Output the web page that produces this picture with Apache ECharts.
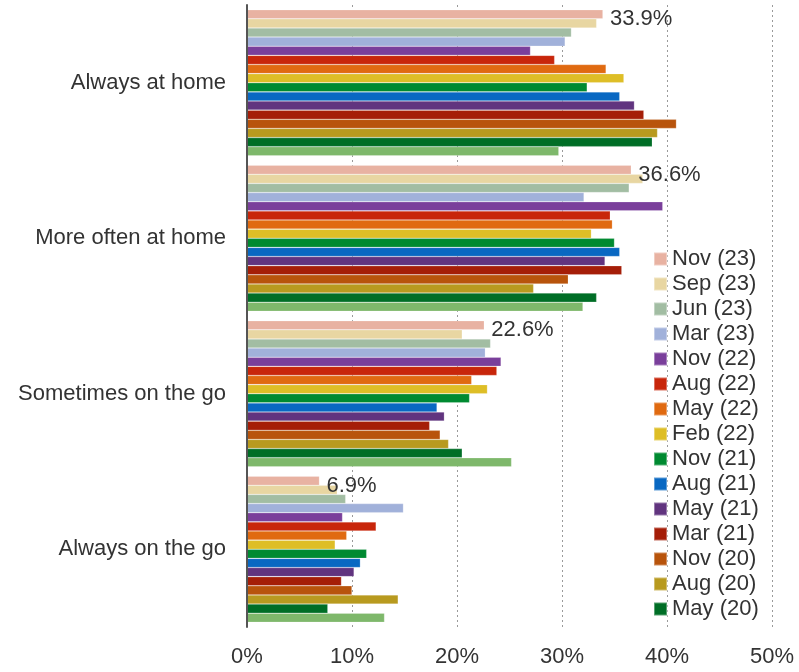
<!DOCTYPE html>
<html>
<head>
<meta charset="utf-8">
<script src="https://cdn.jsdelivr.net/npm/echarts@6/dist/echarts.min.js"></script>
<style>
html,body{margin:0;padding:0;background:#fff;}
#chart{width:799px;height:672px;}
</style>
</head>
<body>
<div id="chart"></div>
<script>
var categories = ['Always at home', 'More often at home', 'Sometimes on the go', 'Always on the go'];
var seriesNames = ['Nov (23)', 'Sep (23)', 'Jun (23)', 'Mar (23)', 'Nov (22)', 'Aug (22)', 'May (22)', 'Feb (22)', 'Nov (21)', 'Aug (21)', 'May (21)', 'Mar (21)', 'Nov (20)', 'Aug (20)', 'May (20)', 'Earlier wave'];
var seriesColors = ['#E8B2A2', '#E8D6A2', '#A2BDA3', '#A1B1DA', '#7A3F9B', '#C8260B', '#E06A11', '#DEBE26', '#008A31', '#0968C2', '#61347F', '#A51E08', '#B8540C', '#B89A1F', '#006E26', '#7EB86B'];
var nov23 = [33.9, 36.6, 22.6, 6.9];
var sep23 = [33.3, 37.7, 20.5, 8.6];
var jun23 = [30.9, 36.4, 23.2, 9.4];
var mar23 = [30.3, 32.1, 22.7, 14.9];
var nov22 = [27.0, 39.6, 24.2, 9.1];
var aug22 = [29.3, 34.6, 23.8, 12.3];
var may22 = [34.2, 34.8, 21.4, 9.5];
var feb22 = [35.9, 32.8, 22.9, 8.4];
var nov21 = [32.4, 35.0, 21.2, 11.4];
var aug21 = [35.5, 35.5, 18.1, 10.8];
var may21 = [36.9, 34.1, 18.8, 10.2];
var mar21 = [37.8, 35.7, 17.4, 9.0];
var nov20 = [40.9, 30.6, 18.4, 10.0];
var aug20 = [39.1, 27.3, 19.2, 14.4];
var may20 = [38.6, 33.3, 20.5, 7.7];
var earlier = [29.7, 32.0, 25.2, 13.1];
var xTicks = [0, 10, 20, 30, 40, 50];

var allValues = [nov23, sep23, jun23, mar23, nov22, aug22, may22, feb22, nov21, aug21, may21, mar21, nov20, aug20, may20, earlier];
var font = '"Liberation Sans", Arial, sans-serif';

var series = allValues.map(function (vals, i) {
  var s = {
    name: seriesNames[i],
    type: 'bar',
    data: vals,
    barGap: '0%',
    barCategoryGap: '6%',
    itemStyle: { color: seriesColors[i], borderColor: 'rgba(255,255,255,0.35)', borderWidth: 0.6 },
    emphasis: { disabled: true },
    animation: false
  };
  if (i === 0) {
    s.label = {
      show: true,
      position: 'right',
      distance: 7,
      offset: [0, 5],
      formatter: '{c}%',
      fontSize: 22,
      fontFamily: font,
      color: '#333'
    };
  }
  return s;
});

var chart = echarts.init(document.getElementById('chart'), null, { renderer: 'canvas' });
chart.setOption({
  animation: false,
  backgroundColor: '#fff',
  grid: { left: 247, right: 27, top: 5, bottom: 45, containLabel: false },
  legend: {
    orient: 'vertical',
    left: 648,
    top: 243,
    data: seriesNames.slice(0, 15),
    itemWidth: 13,
    itemHeight: 13,
    itemGap: 3,
    icon: 'rect',
    textStyle: { fontSize: 22, fontFamily: font, color: '#333', lineHeight: 22 },
    selectedMode: false
  },
  xAxis: {
    type: 'value',
    min: xTicks[0],
    max: xTicks[xTicks.length - 1],
    interval: 10,
    axisLine: { show: false },
    axisTick: { show: false },
    axisLabel: { formatter: '{value}%', fontSize: 22, fontFamily: font, color: '#333', margin: 19 },
    splitLine: { show: true, lineStyle: { type: [2, 3], color: '#9a9a9a', width: 1 } }
  },
  yAxis: {
    type: 'category',
    data: categories,
    inverse: true,
    z: 10,
    axisLine: { show: true, lineStyle: { color: '#555', width: 2 } },
    axisTick: { show: false },
    axisLabel: { fontSize: 22, fontFamily: font, color: '#333', margin: 21 }
  },
  series: series
});
</script>
</body>
</html>
